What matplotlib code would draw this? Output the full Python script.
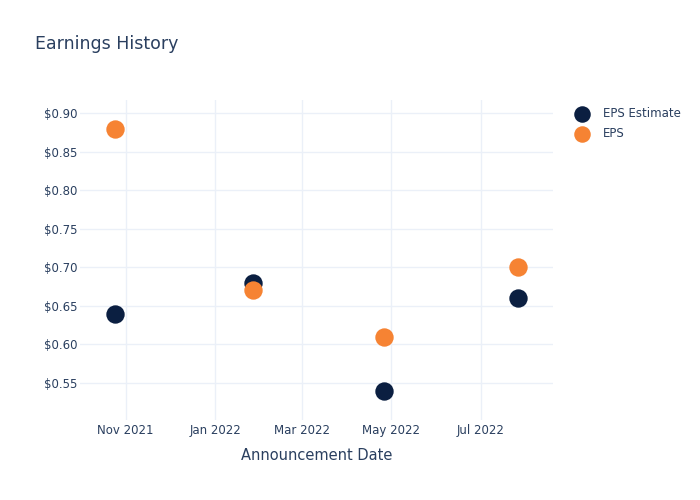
import matplotlib
matplotlib.use("Agg")
import matplotlib.pyplot as plt
import matplotlib.dates as mdates
from matplotlib.ticker import FuncFormatter
import pandas as pd

dates = pd.to_datetime(["2021-10-25", "2022-01-27", "2022-04-26", "2022-07-26"])
eps_estimate = [0.64, 0.68, 0.54, 0.66]
eps_actual = [0.88, 0.67, 0.61, 0.70]

TEXT = "#2a3f5f"
NAVY = "#0b1f41"
ORANGE = "#f68333"
GRID = "#ebf0f8"


def main():
    fig = plt.figure(figsize=(7, 5), dpi=100)
    ax = fig.add_axes([0.1143, 0.16, 0.6757, 0.64])

    ax.scatter(dates, eps_estimate, s=175, color=NAVY, label="EPS Estimate", zorder=3, linewidths=0)
    ax.scatter(dates, eps_actual, s=175, color=ORANGE, label="EPS", zorder=4, linewidths=0)

    ax.set_xlim(pd.Timestamp("2021-10-01"), pd.Timestamp("2022-08-19"))
    ax.set_ylim(0.502, 0.917)

    ax.xaxis.set_major_locator(mdates.MonthLocator(bymonth=[1, 3, 5, 7, 9, 11]))
    ax.xaxis.set_major_formatter(mdates.DateFormatter("%b %Y"))
    ax.set_yticks([0.55, 0.60, 0.65, 0.70, 0.75, 0.80, 0.85, 0.90])
    ax.yaxis.set_major_formatter(FuncFormatter(lambda v, p: f"${v:.2f}"))

    ax.grid(True, color=GRID, linewidth=1)
    ax.set_axisbelow(True)
    for s in ax.spines.values():
        s.set_visible(False)
    ax.tick_params(length=0, labelsize=8.5, labelcolor=TEXT)
    ax.tick_params(axis="y", pad=2)
    ax.tick_params(axis="x", pad=3)

    ax.set_xlabel("Announcement Date", fontsize=10.5, color=TEXT, labelpad=8)
    fig.text(0.05, 0.912, "Earnings History", fontsize=12.5, color=TEXT, va="center")

    ax.legend(loc="upper left", bbox_to_anchor=(1.022, 0.994), frameon=False,
              fontsize=8.5, labelcolor=TEXT, markerscale=0.9, handletextpad=0.55,
              borderaxespad=0.0, borderpad=0.4, labelspacing=0.6,
              handlelength=2.4)

    fig.savefig("out.png", dpi=100)


if __name__ == "__main__":
    main()
